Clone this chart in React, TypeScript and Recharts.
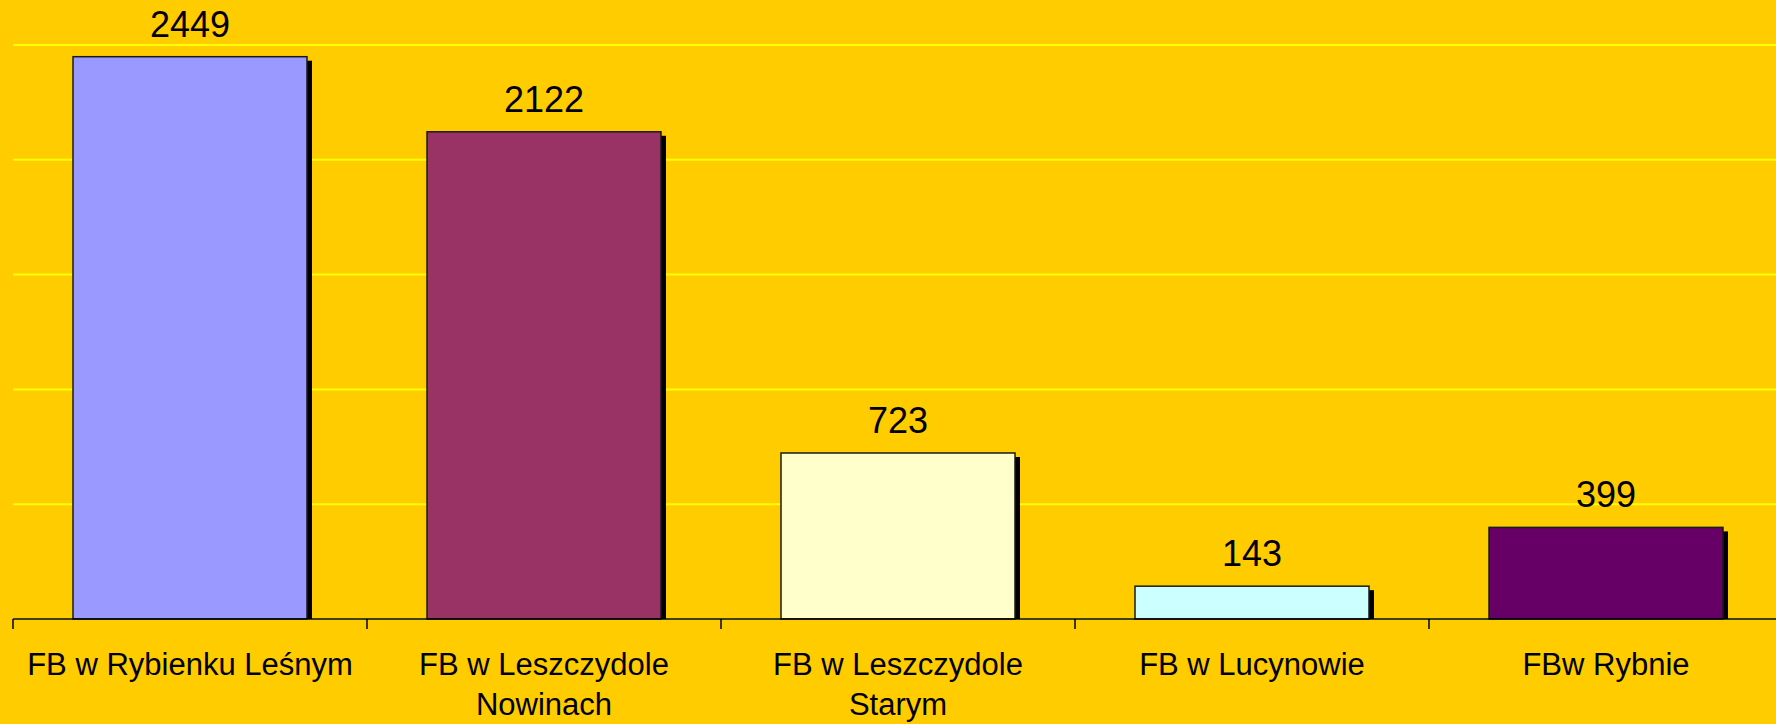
import React from "react";
import { BarChart, Bar, XAxis, YAxis, CartesianGrid, LabelList, Cell } from "recharts";

const categories = [
  "FB w Rybienku Leśnym",
  "FB w Leszczydole Nowinach",
  "FB w Leszczydole Starym",
  "FB w Lucynowie",
  "FBw Rybnie",
];
const values = [2449, 2122, 723, 143, 399];
const barColors = ["#9999FF", "#993366", "#FFFFCC", "#CCFFFF", "#660066"];
const yTicks = [0, 500, 1000, 1500, 2000, 2500];

const data = categories.map((name, i) => ({ name, value: values[i] }));

const FONT = '"Liberation Sans", Arial, sans-serif';
const TICK_FONT_SIZE = 31;

let ctx: CanvasRenderingContext2D | null = null;
function measure(s: string) {
  if (!ctx) {
    ctx = document.createElement("canvas").getContext("2d");
  }
  if (!ctx) return s.length * TICK_FONT_SIZE * 0.5;
  ctx.font = `${TICK_FONT_SIZE}px ${FONT}`;
  return ctx.measureText(s).width;
}

// greedy word wrap, like the category labels in the original slide
function wrap(label: string, maxWidth: number) {
  const words = label.split(" ");
  const lines: string[] = [];
  let cur = "";
  for (const w of words) {
    const next = cur ? cur + " " + w : w;
    if (cur && measure(next) > maxWidth) {
      lines.push(cur);
      cur = w;
    } else {
      cur = next;
    }
  }
  if (cur) lines.push(cur);
  return lines;
}

function ShadowBar(props: any) {
  const { x, y, width, height, fill } = props;
  if (!height || height <= 0) return null;
  return (
    <g>
      <rect x={x + 5} y={y + 4} width={width} height={height - 4} fill="#000" />
      <rect x={x} y={y} width={width} height={height} fill={fill} stroke="#1a1a1a" strokeWidth={1.5} />
    </g>
  );
}

function CategoryTick(props: any) {
  const { x, y, payload, index, visibleTicksCount } = props;
  const half = payload.offset || 0;
  const last = index === visibleTicksCount - 1;
  const lines = wrap(String(payload.value), 345);
  return (
    <g>
      <line x1={x - half} y1={y} x2={x - half} y2={y + 10} stroke="#000" strokeWidth={1.5} />
      {last && <line x1={x + half} y1={y} x2={x + half} y2={y + 10} stroke="#000" strokeWidth={1.5} />}
      <text
        x={x}
        y={y + 56}
        textAnchor="middle"
        fill="#000"
        style={{ fontSize: TICK_FONT_SIZE, fontFamily: FONT }}
      >
        {lines.map((l, i) => (
          <tspan key={i} x={x} dy={i === 0 ? 0 : 40}>
            {l}
          </tspan>
        ))}
      </text>
    </g>
  );
}

export default function App() {
  return (
    <div
      style={{
        position: "fixed",
        left: 0,
        top: 0,
        width: 1776,
        height: 724,
        overflow: "hidden",
        background: "#FFCC00",
      }}
    >
      <BarChart
        width={1790}
        height={724}
        data={data}
        margin={{ top: 45, right: 7, left: 13, bottom: 0 }}
        barSize={234}
      >
        <CartesianGrid vertical={false} stroke="#FFFF00" strokeWidth={2} />
        <YAxis hide domain={[0, 2500]} ticks={yTicks} />
        <XAxis
          dataKey="name"
          height={105}
          axisLine={{ stroke: "#000", strokeWidth: 1.5 }}
          tickLine={false}
          tickSize={0}
          tickMargin={0}
          interval={0}
          tick={<CategoryTick />}
        />
        <Bar dataKey="value" shape={<ShadowBar />} isAnimationActive={false}>
          {data.map((d, i) => (
            <Cell key={d.name} fill={barColors[i]} />
          ))}
          <LabelList
            dataKey="value"
            position="top"
            offset={20}
            fill="#000"
            style={{ fontSize: 36, fontFamily: FONT }}
          />
        </Bar>
      </BarChart>
    </div>
  );
}
